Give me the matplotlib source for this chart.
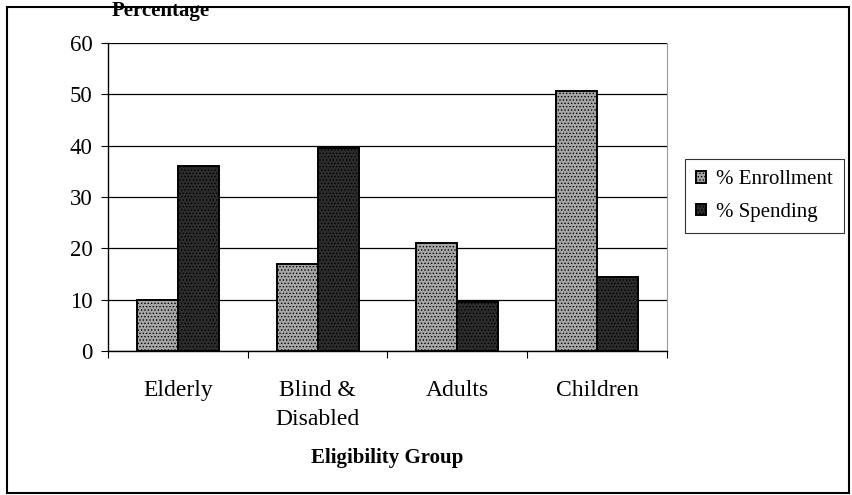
import numpy as np
import matplotlib.pyplot as plt
from matplotlib.patches import Rectangle

plt.rcParams['font.family'] = ['Liberation Serif', 'DejaVu Serif']
plt.rcParams['hatch.linewidth'] = 0.6

# Datos
groups = ['Elderly', 'Blind &\nDisabled', 'Adults', 'Children']
enrollment = [10, 17, 21, 50.7]
spending = [36, 39.5, 9.5, 14.4]
yticks = [0, 10, 20, 30, 40, 50, 60]

W, H = 853, 495
fig = plt.figure(figsize=(W / 100, H / 100), dpi=100)
ax = fig.add_axes([108 / W, 1 - 351 / H, (667 - 108) / W, (351 - 43) / H])

x = np.arange(len(groups))
bw = 0.293
b1 = ax.bar(x - bw / 2, enrollment, bw, color='#a6a6a6', edgecolor='black',
            linewidth=1.4, hatch='.....', label='% Enrollment', zorder=3)
b2 = ax.bar(x + bw / 2, spending, bw, color='#2c2c2c', edgecolor='black',
            linewidth=1.4, hatch='.....', label='% Spending', zorder=3)

ax.set_xlim(-0.5, len(groups) - 0.5)
ax.set_ylim(0, 60)
ax.set_yticks(yticks)
ax.yaxis.grid(True, color='black', linewidth=0.9, zorder=0)
ax.set_axisbelow(True)

# ticks en las fronteras de categorias
ax.set_xticks(np.arange(len(groups) + 1) - 0.5)
ax.set_xticklabels([])
ax.set_xticks(x, minor=True)
ax.set_xticklabels(groups, minor=True, fontsize=17, linespacing=1.5)
ax.tick_params(axis='x', which='minor', length=0, pad=21)
ax.tick_params(axis='x', which='major', length=5, direction='out')
ax.tick_params(axis='y', labelsize=16.5, length=5, pad=6)

ax.spines['top'].set_visible(False)
ax.spines['right'].set_color('#999999')
ax.spines['right'].set_linewidth(0.8)
ax.spines['left'].set_linewidth(1.0)
ax.spines['bottom'].set_linewidth(1.0)

fig.text(161 / W, 1 - 11 / H, 'Percentage', fontsize=15, fontweight='bold',
         ha='center', va='center')
fig.text(387.5 / W, 1 - 458 / H, 'Eligibility Group', fontsize=15,
         fontweight='bold', ha='center', va='center')

leg = fig.legend(handles=[b1, b2], loc='upper left',
                 bbox_to_anchor=(685 / W, 1 - 159 / H), fontsize=15,
                 frameon=True, fancybox=False, edgecolor='black',
                 handlelength=0.45, handleheight=0.45, handletextpad=0.5,
                 borderpad=0.55, labelspacing=0.65, borderaxespad=0)
leg.get_frame().set_linewidth(0.8)

fig.patches.append(Rectangle((7 / W, 1 - 493 / H), (849 - 7) / W, (493 - 7) / H,
                             transform=fig.transFigure, fill=False,
                             edgecolor='black', linewidth=1.5))

fig.savefig('out.png', dpi=100)
